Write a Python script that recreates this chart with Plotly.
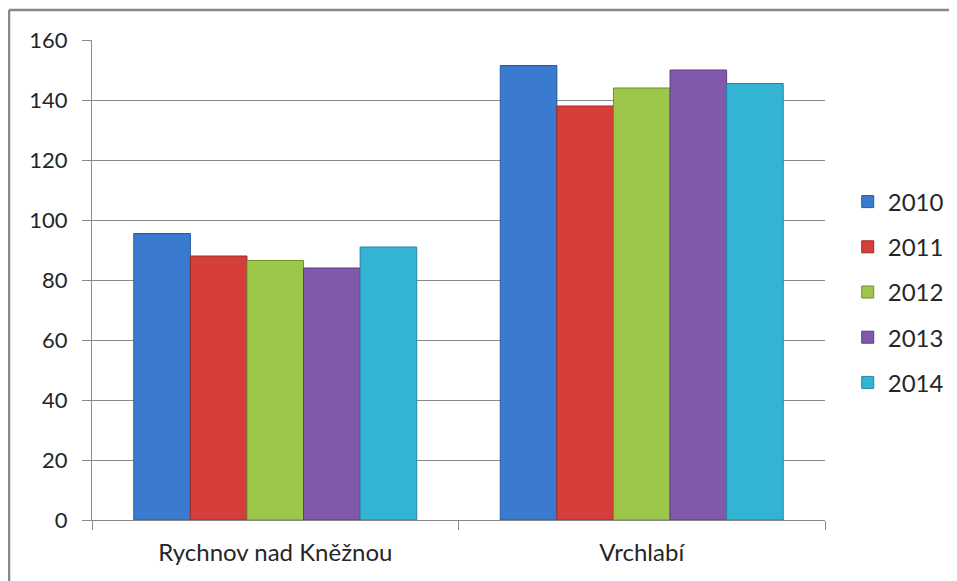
import plotly.graph_objects as go

categories = ["Rychnov nad Kněžnou", "Vrchlabí"]
years = ["2010", "2011", "2012", "2013", "2014"]
values_2010 = [95.5, 151.5]
values_2011 = [88, 138]
values_2012 = [86.5, 144]
values_2013 = [84, 150]
values_2014 = [91, 145.5]
series = [values_2010, values_2011, values_2012, values_2013, values_2014]
y_ticks = [0, 20, 40, 60, 80, 100, 120, 140, 160]

colors = ["#3a7bd0", "#d63e3b", "#9dc74a", "#8059ad", "#33b4d4"]
edges = ["#2a5a99", "#9e2a28", "#6f8f30", "#5a3d7d", "#23849c"]

FONT = "Lato"
TEXT = "#262626"
GRID = "#8a8a8a"

fig = go.Figure()
for yr, vals, c, e in zip(years, series, colors, edges):
    fig.add_trace(go.Bar(
        x=categories, y=vals, name=yr, legendgroup=yr,
        marker=dict(color=c, line=dict(color=e, width=1)),
    ))

fig.update_layout(
    width=949, height=573,
    margin=dict(l=84, r=132, t=32, b=61, autoexpand=False),
    paper_bgcolor="white", plot_bgcolor="white",
    barmode="group", bargap=0.228, bargroupgap=0,
    font=dict(family=FONT, size=22, color=TEXT),
    legend=dict(
        x=1.031, xanchor="left", y=0.475, yanchor="middle",
        font=dict(family=FONT, size=24, color=TEXT),
        tracegroupgap=11, traceorder="grouped",
        bgcolor="rgba(0,0,0,0)",
    ),
    showlegend=True,
)
fig.update_yaxes(
    range=[0, 160], tickvals=y_ticks, ticktext=[str(v) for v in y_ticks],
    showgrid=True, gridcolor=GRID, gridwidth=1,
    showline=True, linecolor=GRID, linewidth=1,
    ticks="outside", ticklen=9, tickcolor=GRID,
    zeroline=False, ticklabelstandoff=10,
    tickfont=dict(family=FONT, size=22, color=TEXT),
)
fig.update_xaxes(
    showline=True, linecolor=GRID, linewidth=1,
    ticks="outside", ticklen=9, tickcolor=GRID, tickson="boundaries",
    showgrid=False, ticklabelstandoff=11,
    tickfont=dict(family=FONT, size=24, color=TEXT),
)

# outer chart frame (top and left edges visible in the reference)
fig.add_shape(type="line", xref="paper", yref="paper",
              x0=-0.1132, x1=1.3, y0=1.0625, y1=1.0625,
              line=dict(color="#888888", width=2.5))
fig.add_shape(type="line", xref="paper", yref="paper",
              x0=-0.1132, x1=-0.1132, y0=1.0625, y1=-0.2,
              line=dict(color="#888888", width=2.5))

fig.write_html("out.html")
